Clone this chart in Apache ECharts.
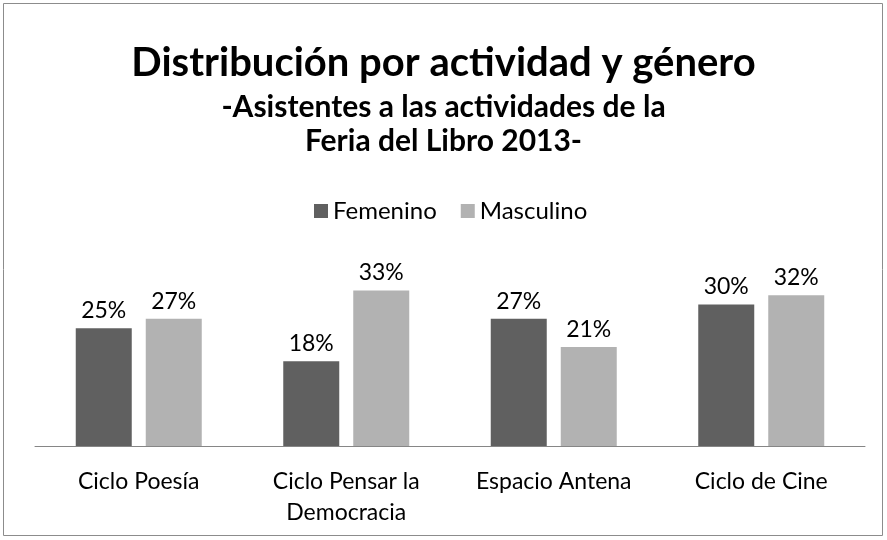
<!DOCTYPE html>
<html>
<head>
<meta charset="utf-8">
<script src="https://cdn.jsdelivr.net/npm/echarts@6/dist/echarts.min.js"></script>
<style>
  html, body { margin: 0; padding: 0; background: #fff; }
  #chart { width: 887px; height: 540px; }
</style>
</head>
<body>
<div id="chart"></div>
<script>
"use strict";

// categorias y porcentajes
var categorias = ['Ciclo Poesía', 'Ciclo Pensar la\nDemocracia', 'Espacio Antena', 'Ciclo de Cine'];
var femenino = [25, 18, 27, 30];
var masculino = [27, 33, 21, 32];

var fuente = 'Lato';

var myChart = echarts.init(document.getElementById('chart'));

var etiqueta = {
	show: true,
	position: 'top',
	distance: 6,
	formatter: '{c}%',
	fontFamily: fuente,
	fontSize: 23,
	color: '#000'
};

var option = {
	backgroundColor: '#fff',
	animation: false,
	graphic: [{
		type: 'rect',
		shape: { x: 3.5, y: 3.5, width: 879, height: 532 },
		style: { fill: 'none', stroke: '#8c8c8c', lineWidth: 1 }
	}],
	title: [{
		text: 'Distribución por actividad y género',
		left: 'center',
		top: 38,
		textStyle: { fontFamily: fuente, fontWeight: 'bold', fontSize: 40, color: '#000' }
	}, {
		text: '-Asistentes a las actividades de la',
		left: 'center',
		top: 87,
		textStyle: { fontFamily: fuente, fontWeight: 'bold', fontSize: 30, color: '#000' }
	}, {
		text: 'Feria del Libro 2013-',
		left: 'center',
		top: 121,
		textStyle: { fontFamily: fuente, fontWeight: 'bold', fontSize: 30, color: '#000' }
	}],
	legend: {
		top: 194,
		left: 309,
		itemWidth: 14,
		itemHeight: 14,
		itemGap: 24,
		icon: 'rect',
		textStyle: { fontFamily: fuente, fontSize: 24, color: '#000' },
		data: ['Femenino', 'Masculino']
	},
	grid: {
		left: 35,
		right: 22,
		top: 281,
		bottom: 94
	},
	xAxis: {
		type: 'category',
		data: categorias,
		axisTick: { show: false },
		axisLine: { lineStyle: { color: '#868686', width: 1 } },
		axisLabel: {
			fontFamily: fuente,
			fontSize: 23,
			color: '#000',
			margin: 20,
			lineHeight: 31,
			interval: 0
		}
	},
	yAxis: {
		type: 'value',
		min: 0,
		max: 35,
		show: false
	},
	series: [{
		name: 'Femenino',
		type: 'bar',
		data: femenino,
		barWidth: 56,
		barGap: '25%',
		itemStyle: { color: '#606060' },
		label: etiqueta
	}, {
		name: 'Masculino',
		type: 'bar',
		data: masculino,
		barWidth: 56,
		itemStyle: { color: '#b2b2b2' },
		label: etiqueta
	}]
};

myChart.setOption(option);
</script>
</body>
</html>
